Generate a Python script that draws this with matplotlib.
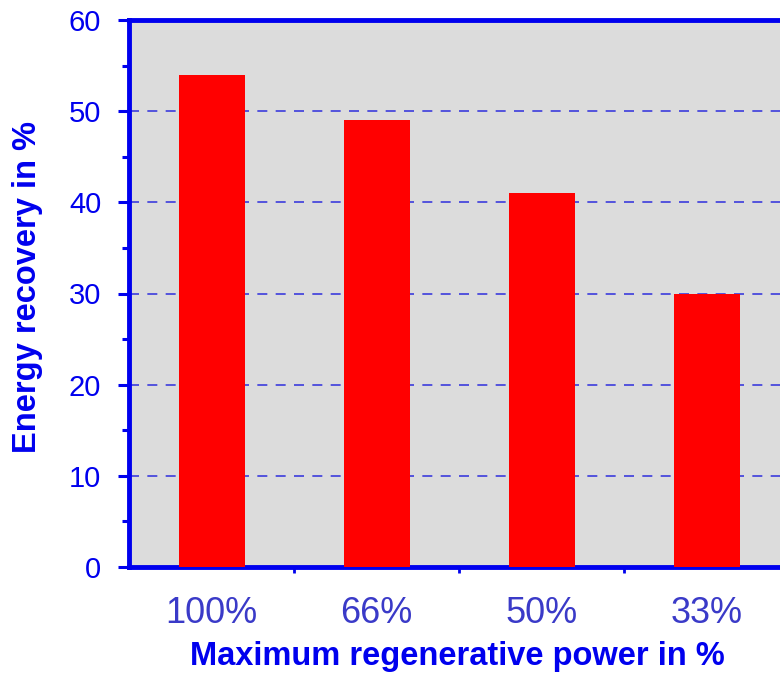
import matplotlib
matplotlib.use('Agg')
import matplotlib.pyplot as plt
from matplotlib.ticker import MultipleLocator, FixedLocator

# data
categories = ['100%', '66%', '50%', '33%']
recovery = [54, 49, 41, 30]

blue = '#0000ee'
plt.rcParams['font.family'] = ['Liberation Sans', 'DejaVu Sans']

fig = plt.figure(figsize=(7.8, 6.73), dpi=100)
ax = fig.add_axes([129/780, 1-567/673, 660/780, 547/673])
ax.set_facecolor('#dcdcdc')

x = list(range(len(categories)))
ax.bar(x, recovery, width=0.4, color='#ff0000', zorder=3)

ax.set_xlim(-0.5, len(categories) - 0.5)
ax.set_ylim(0, 60)
ax.yaxis.set_major_locator(MultipleLocator(10))
ax.yaxis.set_minor_locator(MultipleLocator(5))
ax.set_xticks(x)
ax.set_xticklabels(categories)
ax.xaxis.set_minor_locator(FixedLocator([0.5, 1.5, 2.5]))

ax.grid(axis='y', which='major', color='#3c3cdc', linestyle=(0, (6, 5)), linewidth=1.2, zorder=1)

for side in ['left', 'bottom', 'top']:
    ax.spines[side].set_color(blue)
    ax.spines[side].set_linewidth(3.5)
ax.spines['right'].set_visible(False)

ax.tick_params(axis='y', which='major', length=8, width=2.2, color=blue, labelcolor=blue, labelsize=21, pad=12)
ax.tick_params(axis='y', which='minor', length=5, width=2.2, color=blue)
ax.tick_params(axis='x', which='major', length=0, labelcolor='#3a3ac8', labelsize=26, pad=21)
ax.tick_params(axis='x', which='minor', length=4, width=2, color=blue)

ax.set_xlabel('Maximum regenerative power in %', fontsize=23.5, fontweight='bold', color=blue)
ax.set_ylabel('Energy recovery in %', fontsize=23.5, fontweight='bold', color=blue)
ax.xaxis.set_label_coords(0.4977, -0.135)
ax.yaxis.set_label_coords(-0.131, 0.512)

fig.savefig('out.png', dpi=100)
